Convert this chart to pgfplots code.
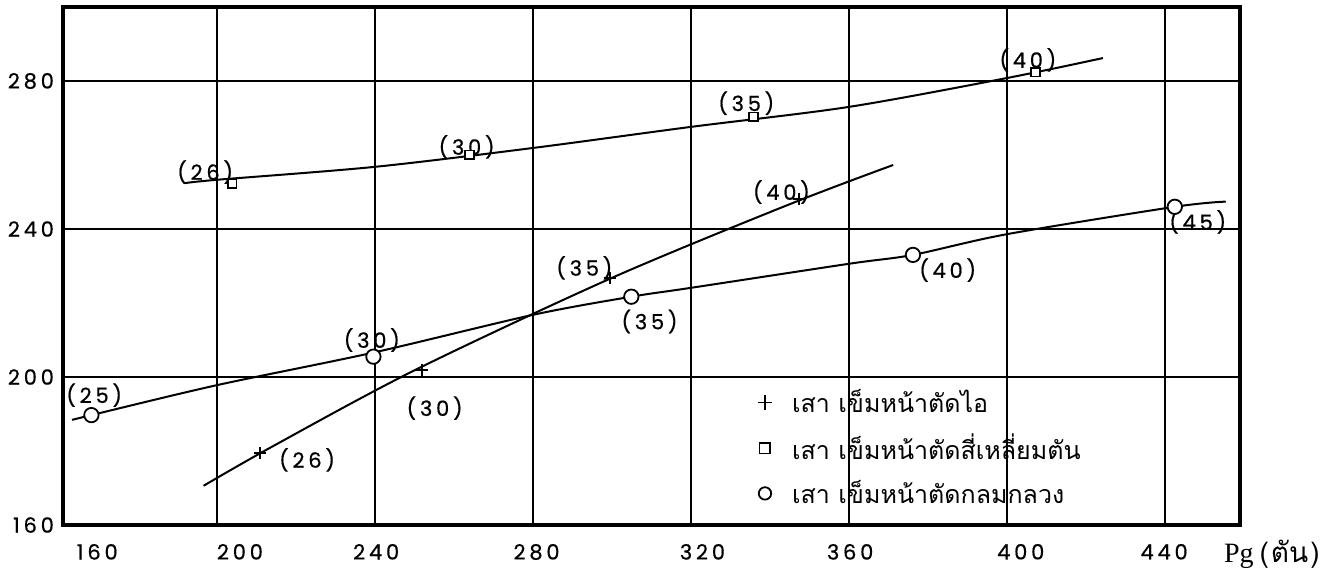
\documentclass[border=0pt]{standalone}
\usepackage{pgfplots}
\pgfplotsset{compat=1.18}
\usepackage{pgfplotstable}
\usepackage{fontspec}
\setmainfont{Liberation Serif}
\newfontfamily\numfont[LetterSpace=18, FakeBold=0.6]{Poppins}
\newfontfamily\thaifont[Script=Thai]{Loma}
\newcommand{\numsize}{\numfont\fontsize{10.5}{12}\selectfont}

% fitted curves (drawn without marks)
\pgfplotstableread{
x y
196.6 170.6
214.0 181.2
250.0 201.8
300.0 226.8
345.0 246.7
371.2 257.3
}\plusline
\pgfplotstableread{
x y
191.9 252.4
200.0 253.3
240.0 256.8
280.0 261.9
320.0 267.6
360.0 273.0
400.0 280.8
424.3 286.2
}\squareline
\pgfplotstableread{
x y
163.3 188.4
168.2 189.7
200.0 197.8
239.6 206.6
280.0 216.8
304.9 221.7
320.0 224.1
360.0 230.6
376.2 233.0
400.0 238.6
442.5 246.0
455.4 247.4
}\circleline

% measured points
\pgfplotstableread{
x y
210.9 179.4
252.0 201.9
299.4 226.8
347.4 248.2
}\pluspts
\pgfplotstableread{
x y
203.8 252.2
264.0 260.0
335.8 270.3
407.3 282.4
}\squarepts
\pgfplotstableread{
x y
168.2 189.7
239.6 205.5
304.9 221.7
376.2 233.0
442.5 246.0
}\circlepts

\begin{document}
\begin{tikzpicture}
\begin{axis}[
  scale only axis, width=588.5pt, height=259pt,
  xmin=161, xmax=459, ymin=160, ymax=300,
  axis line style={line width=1.6pt},
  xtick={200,240,...,440}, xticklabels={},
  ytick={160,200,240,280},
  grid=major, major grid style={black, line width=0.8pt},
  major tick length=0pt,
  extra x ticks={169.7,205.8,240.3,280.9,322.9,360.3,403.5,439.8},
  extra x tick labels={160,200,240,280,320,360,400,440},
  extra x tick style={grid=none},
  /pgf/number format/assume math mode=true,
  xticklabel style={font=\numsize, yshift=-6pt},
  yticklabel style={font=\numsize, xshift=-1pt},
  legend style={at={(0.590,0.27)}, anchor=north west, draw=none, fill=none,
    font=\thaifont\fontsize{12.5}{15}\selectfont, row sep=5pt, inner sep=0pt},
  legend cell align=left,
  clip=false,
]
\addplot[black, line width=1pt, smooth, forget plot] table {\plusline};
\addplot[black, line width=1pt, smooth, forget plot] table {\squareline};
\addplot[black, line width=1pt, smooth, forget plot] table {\circleline};

\addplot[only marks, mark=+, mark size=3pt, line width=0.9pt,
  legend image post style={mark size=3.6pt, line width=0.8pt}] table {\pluspts};
\addlegendentry{\hspace{8pt}เสา เข็มหน้าตัดไอ}
\addplot[only marks, mark=square*, mark size=2.2pt, mark options={fill=white, line width=0.9pt},
  legend image post style={mark size=2.7pt}] table {\squarepts};
\addlegendentry{\hspace{8pt}เสา เข็มหน้าตัดสี่เหลี่ยมตัน}
\addplot[only marks, mark=*, mark size=3.6pt, mark options={fill=white, line width=0.9pt},
  legend image post style={mark size=3.1pt}] table {\circlepts};
\addlegendentry{\hspace{8pt}เสา เข็มหน้าตัดกลมกลวง}

\begin{scope}[every node/.style={font=\numsize, inner sep=0pt}]
  % square series
  \node at (axis cs:197,255.4) {(26)};
  \node at (axis cs:263.2,262.2) {(30)};
  \node at (axis cs:334,274) {(35)};
  \node at (axis cs:405.3,285.7) {(40)};
  % plus series
  \node at (axis cs:222.8,177.6) {(26)};
  \node at (axis cs:255.1,191.6) {(30)};
  \node at (axis cs:293,229.5) {(35)};
  \node at (axis cs:342.9,250) {(40)};
  % circle series
  \node at (axis cs:168.9,195.1) {(25)};
  \node at (axis cs:239.2,210) {(30)};
  \node at (axis cs:309.5,215) {(35)};
  \node at (axis cs:385,228.9) {(40)};
  \node at (axis cs:448.3,241.9) {(45)};
\end{scope}

\node[anchor=east, inner sep=0pt] at (rel axis cs:1.068,-0.056)
  {\fontsize{14}{16}\selectfont Pg\hspace{3pt}{\thaifont(\hspace{1pt}ตัน\hspace{1pt})}};

\coordinate (bbSW) at (rel axis cs:-0.0535,-0.0946);
\coordinate (bbNE) at (rel axis cs:1.0816,1.0135);
\end{axis}
\pgfresetboundingbox
\path[use as bounding box] (bbSW) rectangle (bbNE);
\end{tikzpicture}
\end{document}
